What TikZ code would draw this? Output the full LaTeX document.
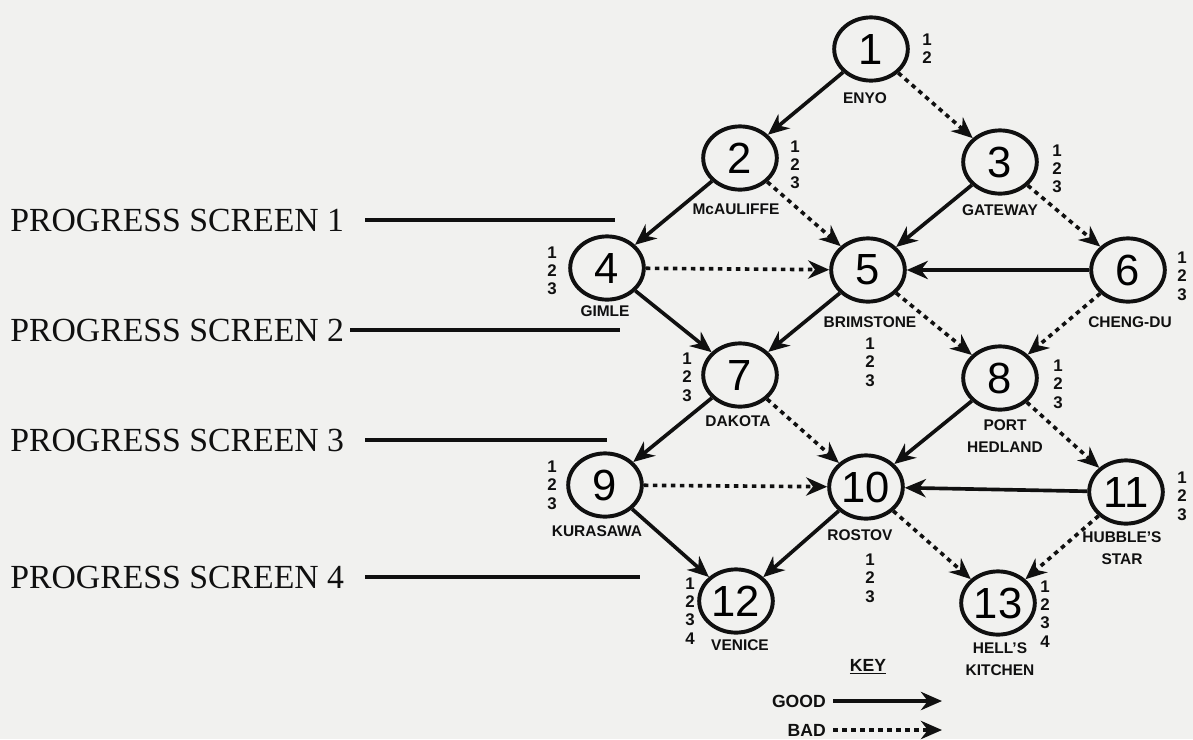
\documentclass[tikz,border=0pt]{standalone}
\usepackage{fontspec}
\setmainfont{Liberation Serif}
\setsansfont{Liberation Sans}
\usepackage{tikz}
\usetikzlibrary{arrows.meta,backgrounds,shapes.geometric}
\definecolor{paper}{HTML}{F1F1EF}
\definecolor{ink}{HTML}{101010}
\tikzset{
  >=Stealth,
  town/.style={
    ellipse,
    draw=ink,
    line width=2.8pt,
    minimum width=1.84cm,
    minimum height=1.58cm,
    inner sep=0pt,
    font=\sffamily\fontsize{31}{31}\selectfont
  },
  town name/.style={
    font=\sffamily\bfseries\fontsize{11}{16}\selectfont,
    text=ink,
    align=center,
    inner sep=0pt
  },
  visits/.style={
    font=\sffamily\bfseries\fontsize{12}{13}\selectfont,
    text=ink,
    align=center,
    inner sep=0pt
  },
  good move/.style={
    draw=ink,
    line width=2.6pt,
    -{Stealth[length=15pt,width=13pt]}
  },
  bad move/.style={
    good move,
    dash pattern=on 3.2pt off 3.2pt
  },
  key text/.style={
    font=\sffamily\bfseries\fontsize{12.5}{14}\selectfont,
    text=ink,
    inner sep=0pt
  },
  screen label/.style={
    font=\fontsize{24}{24}\selectfont,
    text=ink,
    anchor=west,
    inner sep=0pt
  },
  screen line/.style={
    draw=ink,
    line width=2.2pt
  }
}
\newcommand{\goodmoves}[1]{%
  \begin{scope}[on background layer]
    \foreach \a/\b in {#1}{
      \draw[good move] (N-\a) -- (N-\b);
    }
  \end{scope}
}
\newcommand{\badmoves}[1]{%
  \begin{scope}[on background layer]
    \foreach \a/\b in {#1}{
      \draw[bad move] (N-\a) -- (N-\b);
    }
  \end{scope}
}

\begin{document}
\begin{tikzpicture}[x=0.025cm,y=-0.025cm]
  \begin{scope}[on background layer]
    \useasboundingbox[fill=paper] (0,0) rectangle (1193,739);
  \end{scope}

  \node[town] (N-1) at (871,49) {1};
  \node[town] (N-2) at (740,158) {2};
  \node[town] (N-3) at (1000,162) {3};
  \node[town] (N-4) at (607,268) {4};
  \node[town] (N-5) at (868,270) {5};
  \node[town] (N-6) at (1128,270) {6};
  \node[town] (N-7) at (740,375) {7};
  \node[town] (N-8) at (1000,378) {8};
  \node[town] (N-9) at (605,485) {9};
  \node[town] (N-10) at (866,487) {10};
  \node[town] (N-11) at (1126,492) {11};
  \node[town] (N-12) at (736,601) {12};
  \node[town] (N-13) at (998,603) {13};

  \goodmoves{1/2,2/4,3/5,4/7,5/7,6/5,7/9,8/10,9/12,10/12,11/10}
  \badmoves{1/3,2/5,3/6,4/5,5/8,6/8,7/10,8/11,9/10,10/13,11/13}

  \node[town name] (L-1) at (865,98) {ENYO};
  \node[town name] (L-2) at (736,209) {McAULIFFE};
  \node[town name] (L-3) at (1000,210) {GATEWAY};
  \node[town name] (L-4) at (605,311) {GIMLE};
  \node[town name] (L-5) at (870,322) {BRIMSTONE};
  \node[town name] (L-6) at (1130,322) {CHENG-DU};
  \node[town name] (L-7) at (738,421) {DAKOTA};
  \node[town name] (L-8) at (1005,436) {PORT\\HEDLAND};
  \node[town name] (L-9) at (597,531) {KURASAWA};
  \node[town name] (L-10) at (860,535) {ROSTOV};
  \node[town name] (L-11) at (1122,548) {HUBBLE'S\\STAR};
  \node[town name] (L-12) at (740,645) {VENICE};
  \node[town name] (L-13) at (1000,659) {HELL'S\\KITCHEN};

  \node[visits] (V-1) at (927,49) {1\\2};
  \node[visits] (V-2) at (795,165) {1\\2\\3};
  \node[visits] (V-3) at (1057,169) {1\\2\\3};
  \node[visits] (V-4) at (552,271) {1\\2\\3};
  \node[visits] (V-5) at (870,362) {1\\2\\3};
  \node[visits] (V-6) at (1182,276) {1\\2\\3};
  \node[visits] (V-7) at (687,377) {1\\2\\3};
  \node[visits] (V-8) at (1058,384) {1\\2\\3};
  \node[visits] (V-9) at (552,485) {1\\2\\3};
  \node[visits] (V-10) at (870,578) {1\\2\\3};
  \node[visits] (V-11) at (1182,496) {1\\2\\3};
  \node[visits] (V-12) at (690,611) {1\\2\\3\\4};
  \node[visits] (V-13) at (1045,614) {1\\2\\3\\4};

  % key
  \node[key text] (K) at (868,667) {\underline{KEY}};
  \node[key text,anchor=east] (K-good) at (826,701) {GOOD};
  \node[key text,anchor=east] (K-bad) at (826,730) {BAD};
  \coordinate (K-goodend) at (942,701);
  \coordinate (K-badend) at (942,730);
  \draw[good move] ([xshift=5pt]K-good.east) -- (K-goodend);
  \draw[bad move] ([xshift=5pt]K-bad.east) -- (K-badend);

  % progress screens
  \foreach \k/\y/\a/\b in {1/220/365/615,2/330/350/620,3/440/365/607,4/577/365/640}{
    \node[screen label] (S-\k) at (10,\y) {PROGRESS SCREEN \k};
    \coordinate (S-\k-a) at (\a,\y);
    \coordinate (S-\k-b) at (\b,\y);
    \draw[screen line] (S-\k-a) -- (S-\k-b);
  }
\end{tikzpicture}
\end{document}
